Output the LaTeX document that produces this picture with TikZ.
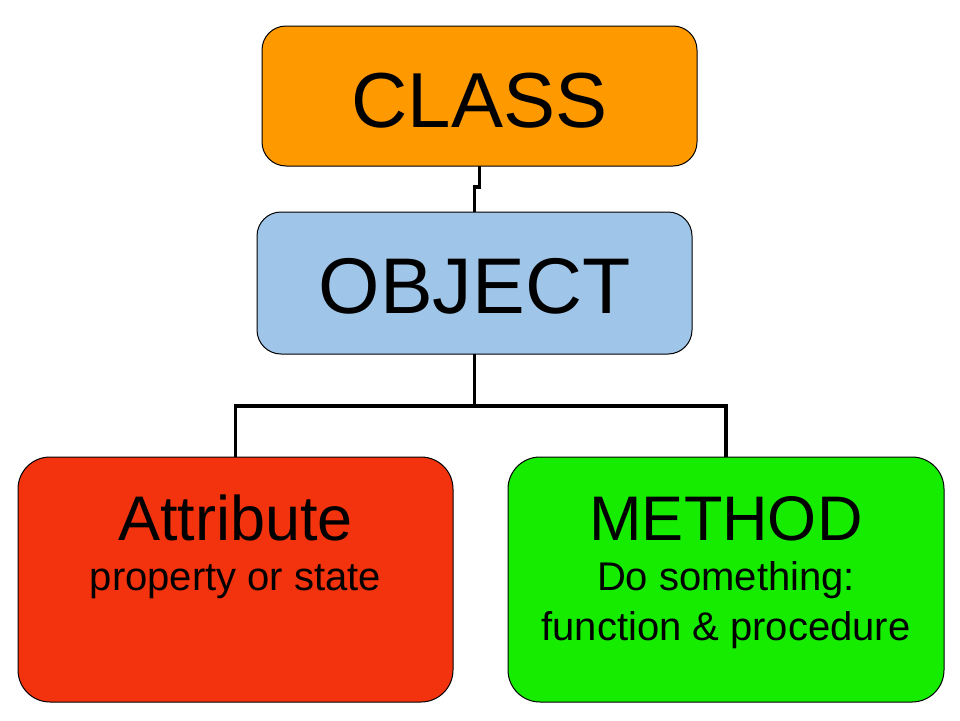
\documentclass[tikz,border=0pt]{standalone}
\usepackage{fontspec}
\setmainfont{Liberation Sans}
\definecolor{cOrange}{RGB}{255,153,0}
\definecolor{cBlue}{RGB}{159,197,232}
\definecolor{cRed}{RGB}{243,50,14}
\definecolor{cGreen}{RGB}{22,236,0}
\tikzset{
  boxstyle/.style={draw=black, line width=1pt, rounded corners=24pt, inner sep=0pt, outer sep=0pt},
  bigbox/.style={boxstyle, rounded corners=32pt},
  conn/.style={draw=black, line width=3.5pt},
  txt/.style={inner sep=0pt, anchor=base},
}
\begin{document}
\begin{tikzpicture}[x=1pt,y=-1pt]
\useasboundingbox (0,0) rectangle (960,720);
\fill[white] (0,0) rectangle (960,720);
% boxes
\node[boxstyle, fill=cOrange, minimum width=435pt, minimum height=140pt] (class) at (479.5,96) {};
\node[boxstyle, fill=cBlue, minimum width=435pt, minimum height=142pt] (object) at (474.5,283) {};
\node[bigbox, fill=cRed, minimum width=435pt, minimum height=245pt] (attr) at (235.5,579.5) {};
\node[bigbox, fill=cGreen, minimum width=436pt, minimum height=245pt] (method) at (726,579.5) {};
% texts
\node[txt] (tclass) at (479.5,127) {\fontsize{78}{90}\selectfont CLASS};
\node[txt] (tobject) at (474.5,313) {\fontsize{79}{90}\selectfont OBJECT};
\node[txt] (tattr) at (235.5,540) {\fontsize{63}{70}\selectfont Attribute};
\node[txt] (tattr2) at (235.5,590) {\fontsize{40}{48}\selectfont property or state};
\node[txt] (tmeth) at (726,540) {\fontsize{63}{70}\selectfont METHOD};
\node[txt] (tmeth2) at (726,590) {\fontsize{40}{48}\selectfont Do something:};
\node[txt] (tmeth3) at (726,640) {\fontsize{40}{48}\selectfont function \& procedure};
% connectors
\coordinate (j) at (474.5,406);
\draw[conn] (class.south) -- ++(0,21) -| (object.north);
\draw[conn] (object.south) -- (j);
\draw[conn] (attr.north) |- (j) -| (method.north);
\end{tikzpicture}
\end{document}
